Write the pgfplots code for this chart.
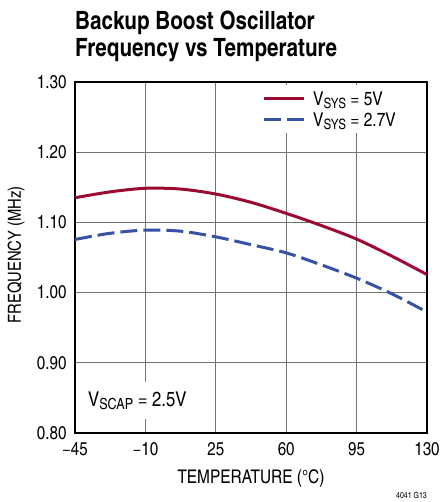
\documentclass[border=0pt]{standalone}
\usepackage{fontspec}
\setmainfont{TeX Gyre Heros Cn}
\usepackage{pgfplots}
\pgfplotsset{compat=1.18}

\definecolor{vfive}{RGB}{155,10,50}
\definecolor{vtwo}{RGB}{55,82,165}
\newcommand{\sub}[1]{\raisebox{-0.28ex}{\scalebox{0.75}{#1}}}

% supply voltage curves: temperature (C) vs oscillator frequency (MHz)
\pgfplotstableread{
T      F
-45    1.1351
-27.5  1.1435
-10    1.1486
7.5    1.1475
25     1.1404
42.5   1.1286
60     1.1129
77.5   1.0955
95     1.0762
112.5  1.0520
130    1.0257
}\vsysfive
\pgfplotstableread{
T      F
-45    1.0757
-27.5  1.0845
-10    1.0890
7.5    1.0875
25     1.0794
42.5   1.0683
60     1.0566
77.5   1.0395
95     1.0206
112.5  0.9983
130    0.9723
}\vsystwo

\begin{document}
\begin{tikzpicture}
\path[use as bounding box] (-75pt,-69pt) rectangle (365pt,433pt);
\begin{axis}[
  at={(0pt,0pt)}, anchor=south west, scale only axis,
  width=352pt, height=351pt,
  xmin=-45, xmax=130, ymin=0.8, ymax=1.3,
  xtick={-45,-10,25,60,95,130},
  xticklabels={−45,−10,25,60,95,130},
  ytick={0.8,0.9,1.0,1.1,1.2,1.3},
  yticklabels={0.80,0.90,1.00,1.10,1.20,1.30},
  grid=major,
  major grid style={black!55, line width=0.9pt},
  major tick length=0pt,
  axis line style={black, line width=1.5pt},
  tick label style={font=\fontsize{18.5}{19}\selectfont},
  yticklabel style={xshift=-5pt},
  xticklabel style={yshift=-6pt},
  legend cell align=left,
  legend image code/.code={\draw[#1] (0pt,0pt) -- (40pt,0pt);},
  legend style={at={(axis description cs:0.5085,0.9915)}, anchor=north west,
    draw=none, fill=white, inner xsep=8pt, inner ysep=7pt,
    row sep=7.2pt, column sep=8pt,
    font=\fontsize{19}{20}\selectfont,
    nodes={inner sep=0pt, text height=13.5pt, text depth=0pt}},
]
\addplot[vfive, line width=3pt, smooth] table[x=T, y=F] {\vsysfive};
\addlegendentry{V\sub{SYS} = 5V}
\addplot[vtwo, line width=3pt, smooth, dash pattern=on 17pt off 6pt] table[x=T, y=F] {\vsystwo};
\addlegendentry{V\sub{SYS} = 2.7V}
\end{axis}

\node[anchor=base west, fill=white, inner xsep=3pt, inner ysep=9.5pt,
      text height=15pt, text depth=3pt, font=\fontsize{20.4}{21}\selectfont]
  at (10pt,26.3pt) {V\sub{SCAP} = 2.5V};

\node[anchor=base west, inner sep=0pt, font=\bfseries\fontsize{25.2}{27}\selectfont]
  at (0pt,403.7pt) {Backup Boost Oscillator};
\node[anchor=base west, inner sep=0pt, font=\bfseries\fontsize{25.2}{27}\selectfont]
  at (0pt,376.3pt) {Frequency vs Temperature};

\node[anchor=base, inner sep=0pt, font=\fontsize{18.8}{20}\selectfont]
  at (176pt,-51pt) {TEMPERATURE (°C)};
\node[rotate=90, inner sep=0pt, font=\fontsize{18}{20}\selectfont]
  at (-59pt,178pt) {FREQUENCY (MHz)};
\node[anchor=base east, inner sep=0pt, font=\fontsize{8.5}{9}\selectfont]
  at (352pt,-66pt) {4041 G13};
\end{tikzpicture}
\end{document}
